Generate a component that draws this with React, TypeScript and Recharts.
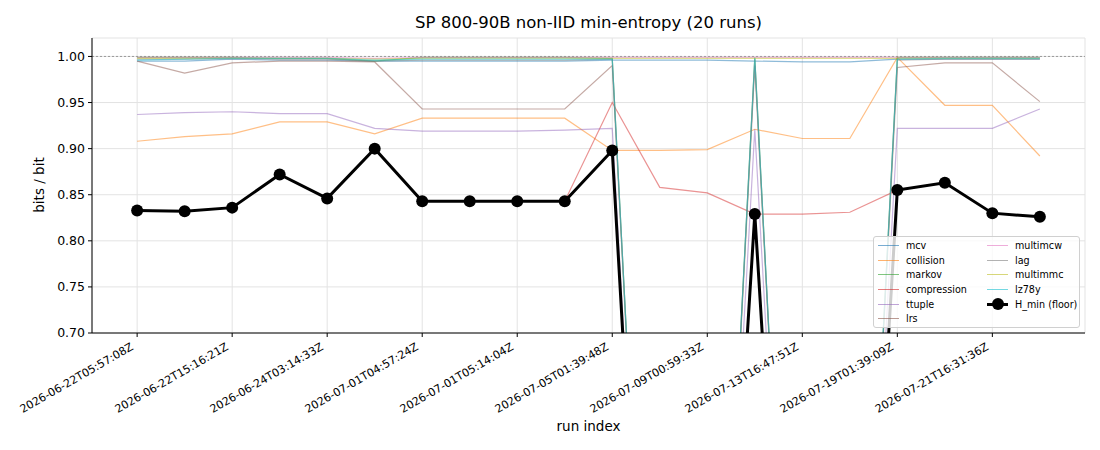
import { LineChart, Line, XAxis, YAxis, CartesianGrid, ReferenceLine } from 'recharts';

const runLabels = [
  '2026-06-22T05:57:08Z', '2026-06-22T09:12:40Z', '2026-06-22T15:16:21Z', '2026-06-23T11:02:55Z',
  '2026-06-24T03:14:33Z', '2026-06-28T18:41:17Z', '2026-07-01T04:57:24Z', '2026-07-01T05:05:49Z',
  '2026-07-01T05:14:04Z', '2026-07-03T22:30:12Z', '2026-07-05T01:39:48Z', '2026-07-07T14:20:03Z',
  '2026-07-09T00:59:33Z', '2026-07-11T08:45:29Z', '2026-07-13T16:47:51Z', '2026-07-16T10:03:44Z',
  '2026-07-19T01:39:09Z', '2026-07-20T12:18:57Z', '2026-07-21T16:31:36Z', '2026-07-23T07:55:20Z',
];

const mcv = [0.995, 0.995, 0.997, 0.996, 0.996, 0.995, 0.995, 0.995, 0.995, 0.995, 0.996, 0.996, 0.996, 0.995, 0.994, 0.994, 0.997, 0.997, 0.997, 0.997];
const collision = [0.908, 0.913, 0.916, 0.929, 0.929, 0.916, 0.933, 0.933, 0.933, 0.933, 0.898, 0.898, 0.899, 0.921, 0.911, 0.911, 0.999, 0.947, 0.947, 0.892];
const markov = [0.999, 0.999, 0.999, 0.998, 0.998, 0.995, 0.999, 0.999, 0.999, 0.999, 0.998, 0.0, 0.0, 0.999, 0.0, 0.0, 0.999, 0.999, 0.999, 0.999];
const compression = [0.833, 0.832, 0.836, 0.872, 0.846, 0.900, 0.843, 0.843, 0.843, 0.843, 0.950, 0.858, 0.852, 0.829, 0.829, 0.831, 0.855, 0.863, 0.830, 0.826];
const ttuple = [0.937, 0.939, 0.940, 0.938, 0.938, 0.922, 0.919, 0.919, 0.919, 0.920, 0.922, 0.0, 0.0, 0.921, 0.0, 0.0, 0.922, 0.922, 0.922, 0.943];
const lrs = [0.995, 0.982, 0.993, 0.995, 0.995, 0.994, 0.943, 0.943, 0.943, 0.943, 0.990, 0.0, 0.0, 0.990, 0.0, 0.0, 0.988, 0.993, 0.993, 0.951];
const multimcw = [0.999, 0.999, 0.999, 0.999, 0.999, 0.998, 0.999, 0.999, 0.999, 0.999, 0.999, 0.999, 0.999, 0.999, 0.999, 0.999, 0.999, 0.999, 0.999, 0.999];
const lag = [0.997, 0.997, 0.998, 0.997, 0.997, 0.995, 0.996, 0.996, 0.996, 0.996, 0.997, 0.0, 0.0, 0.997, 0.0, 0.0, 0.996, 0.997, 0.997, 0.997];
const multimmc = [0.998, 0.998, 0.998, 0.998, 0.998, 0.997, 0.998, 0.998, 0.998, 0.998, 0.998, 0.998, 0.998, 0.998, 0.998, 0.998, 0.998, 0.998, 0.998, 0.998];
const lz78y = [0.996, 0.997, 0.998, 0.998, 0.998, 0.996, 0.997, 0.997, 0.997, 0.997, 0.997, 0.0, 0.0, 0.998, 0.0, 0.0, 0.997, 0.998, 0.998, 0.998];
const hMin = [0.833, 0.832, 0.836, 0.872, 0.846, 0.900, 0.843, 0.843, 0.843, 0.843, 0.898, 0.0, 0.0, 0.829, 0.0, 0.0, 0.855, 0.863, 0.830, 0.826];

const xTicks = [0, 2, 4, 6, 8, 10, 12, 14, 16, 18];
const yTicks = [0.7, 0.75, 0.8, 0.85, 0.9, 0.95, 1.0];

const estimators = [
  { key: 'mcv', values: mcv, color: '#1f77b4' },
  { key: 'collision', values: collision, color: '#ff7f0e' },
  { key: 'markov', values: markov, color: '#2ca02c' },
  { key: 'compression', values: compression, color: '#d62728' },
  { key: 'ttuple', values: ttuple, color: '#9467bd' },
  { key: 'lrs', values: lrs, color: '#8c564b' },
  { key: 'multimcw', values: multimcw, color: '#e377c2' },
  { key: 'lag', values: lag, color: '#7f7f7f' },
  { key: 'multimmc', values: multimmc, color: '#bcbd22' },
  { key: 'lz78y', values: lz78y, color: '#17becf' },
];

const data = runLabels.map((label, i) => {
  const row: Record<string, number | string> = { i, label, hMin: hMin[i] };
  estimators.forEach((s) => { row[s.key] = s.values[i]; });
  return row;
});

const FONT = '"DejaVu Sans", sans-serif';

const RunTick = ({ x, y, payload }: any) => {
  const px = x - 3;
  const py = y + 10;
  return (
    <text x={px} y={py} transform={`rotate(-30 ${px} ${py})`} textAnchor="end"
      fontSize={11.1} fontFamily={FONT} fill="#000">
      {runLabels[payload.value]}
    </text>
  );
};

const LegendBox = () => {
  const col1 = estimators.slice(0, 6);
  const col2 = estimators.slice(6);
  const row = (s: { key: string; color: string }) => (
    <div key={s.key} style={{ display: 'flex', alignItems: 'center', height: 14.7, whiteSpace: 'nowrap' }}>
      <div style={{ width: 21, height: 0, borderTop: `1.3px solid ${s.color}`, opacity: 0.6, marginRight: 7, flex: 'none' }} />
      <span>{s.key}</span>
    </div>
  );
  return (
    <div style={{
      position: 'absolute', left: 873, top: 236, width: 207, height: 92,
      border: '1px solid #d0d0d0', borderRadius: 3, background: 'rgba(255,255,255,0.8)',
      fontFamily: FONT, fontSize: 9.6, color: '#000', display: 'flex', boxSizing: 'border-box',
      padding: '1px 0 0 4px',
    }}>
      <div style={{ width: 109, flex: 'none' }}>{col1.map(row)}</div>
      <div style={{ flex: 'none' }}>
        {col2.map(row)}
        <div style={{ display: 'flex', alignItems: 'center', height: 14.7, whiteSpace: 'nowrap' }}>
          <div style={{ position: 'relative', width: 21, height: 0, borderTop: '3px solid #000', marginRight: 7, flex: 'none' }}>
            <div style={{ position: 'absolute', left: 4.5, top: -7.5, width: 12, height: 12, borderRadius: 6, background: '#000' }} />
          </div>
          <span>H_min (floor)</span>
        </div>
      </div>
    </div>
  );
};

export default function App() {
  return (
    <div style={{ position: 'absolute', left: 0, top: 0, width: 1100, height: 450, background: '#fff' }}>
      <div style={{ position: 'absolute', left: 92, width: 993, top: 13, textAlign: 'center', fontFamily: FONT, fontSize: 16.5 }}>
        SP 800-90B non-IID min-entropy (20 runs)
      </div>
      <div style={{ position: 'absolute', left: 0, top: 0, width: 1100, height: 450 }}>
        <LineChart width={1100} height={450} data={data} margin={{ top: 38, right: 15, left: 0, bottom: 0 }}>
          <CartesianGrid stroke="#e3e3e3" strokeWidth={1} />
          <XAxis
            dataKey="i" type="number" domain={[-0.95, 19.95]} ticks={xTicks} interval={0}
            height={117} tick={<RunTick />} tickSize={4} tickLine={{ stroke: '#000' }}
            axisLine={{ stroke: '#000' }} allowDataOverflow
          />
          <YAxis
            domain={[0.7, 1.02]} ticks={yTicks} allowDataOverflow width={92} tickSize={4} tickMargin={3}
            tickFormatter={(v: number) => v.toFixed(2)}
            tick={{ fontSize: 12.5, fontFamily: FONT, fill: '#000' }}
            tickLine={{ stroke: '#000' }} axisLine={{ stroke: '#000' }}
          />
          <ReferenceLine y={1} stroke="#999" strokeDasharray="2 2" strokeWidth={1} />
          {estimators.map((s) => (
            <Line key={s.key} dataKey={s.key} type="linear" stroke={s.color} strokeOpacity={0.5}
              strokeWidth={1.2} dot={false} activeDot={false} isAnimationActive={false} />
          ))}
          <Line dataKey="hMin" name="H_min (floor)" type="linear" stroke="#000" strokeWidth={3}
            dot={{ r: 6, fill: '#000', stroke: '#000', strokeWidth: 0 }} activeDot={false}
            isAnimationActive={false} />
        </LineChart>
      </div>
      <div style={{ position: 'absolute', left: 92, width: 993, top: 418, textAlign: 'center', fontFamily: FONT, fontSize: 13.5 }}>
        run index
      </div>
      <div style={{
        position: 'absolute', left: 39, top: 185, transform: 'translate(-50%, -50%) rotate(-90deg)',
        fontFamily: FONT, fontSize: 13.5, whiteSpace: 'nowrap',
      }}>
        bits / bit
      </div>
      <LegendBox />
    </div>
  );
}
